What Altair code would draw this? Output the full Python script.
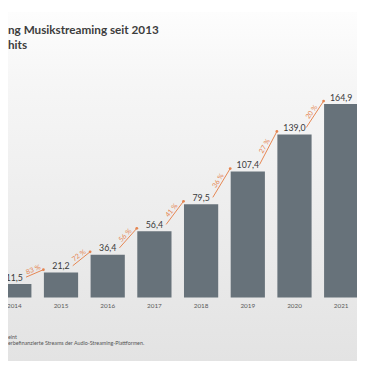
import math
import altair as alt
import pandas as pd

# ---- data ----
years = [2014, 2015, 2016, 2017, 2018, 2019, 2020, 2021]
values = [11.5, 21.2, 36.4, 56.4, 79.5, 107.4, 139.0, 164.9]
growth_labels = ["83 %", "72 %", "56 %", "41 %", "36 %", "27 %", "20 %"]
title_lines = ["ng Musikstreaming seit 2013", "hits"]
footnote_lines = ["eint", "erbefinanzierte Streams der Audio-Streaming-Plattformen."]

W, H = 357, 357
BAR = "#67727a"
ORANGE = "#e5844f"
FONT = "Lato"

x_dom = [2013.9695, 2021.234]
y_dom = [-54.17, 243.33]
px_per_year = W / (x_dom[1] - x_dom[0])
px_per_unit = H / (y_dom[1] - y_dom[0])

bars = pd.DataFrame({
    "year": years,
    "value": values,
    "label": [f"{v:.1f}".replace(".", ",") for v in values],
})

rows = []
for i in range(len(years) - 1):
    dx = px_per_year - 30
    dy = (values[i + 1] - values[i]) * px_per_unit - 4
    ang = math.degrees(math.atan2(dy, dx))
    rows.append({
        "x1": years[i], "x2": years[i + 1],
        "y1": values[i], "y2": values[i + 1],
        "xm": (years[i] + years[i + 1]) / 2,
        "ym": (values[i] + values[i + 1]) / 2,
        "ang": 360 - ang,
        "g": growth_labels[i],
    })
growth = pd.DataFrame(rows)

xs = alt.Scale(domain=x_dom, nice=False, zero=False)
ys = alt.Scale(domain=y_dom, nice=False, zero=False)

one = pd.DataFrame({"a": [0]})

bg = alt.Chart(one).mark_rect().encode(
    x=alt.value(0), x2=alt.value(W), y=alt.value(0), y2=alt.value(H),
    color=alt.value(alt.LinearGradient(
        gradient="linear", x1=0, x2=0, y1=0, y2=1,
        stops=[alt.GradientStop(color="#fdfdfd", offset=0),
               alt.GradientStop(color="#f6f6f6", offset=0.2),
               alt.GradientStop(color="#e3e3e3", offset=1)])),
)

base = alt.Chart(bars)
bar = base.mark_bar(size=35, color=BAR, clip=True).encode(
    x=alt.X("year:Q", scale=xs, axis=None),
    y=alt.Y("value:Q", scale=ys, axis=None),
    y2=alt.datum(0),
)
vlabel = base.mark_text(font=FONT, fontSize=9, color="#3a3a3a", baseline="middle", dy=-6.5).encode(
    x=alt.X("year:Q", scale=xs), y=alt.Y("value:Q", scale=ys), text="label:N")
ylabel = base.mark_text(font=FONT, fontSize=6.5, color="#5a5a5a", baseline="middle", dy=9).encode(
    x=alt.X("year:Q", scale=xs), y=alt.datum(0), text=alt.Text("year:Q", format="d"))

gb = alt.Chart(growth)
gline = gb.mark_rule(color=ORANGE, strokeWidth=1, xOffset=12, x2Offset=-18, yOffset=-7, y2Offset=-3).encode(
    x=alt.X("x1:Q", scale=xs), x2="x2:Q", y=alt.Y("y1:Q", scale=ys), y2="y2:Q")
gdot = gb.mark_circle(color=ORANGE, opacity=1, size=8, xOffset=-18, yOffset=-3).encode(
    x=alt.X("x2:Q", scale=xs), y=alt.Y("y2:Q", scale=ys))
gtext = gb.mark_text(font=FONT, fontSize=7, color=ORANGE, baseline="middle", align="center",
                     xOffset=-3, yOffset=-5, dy=-4).encode(
    x=alt.X("xm:Q", scale=xs), y=alt.Y("ym:Q", scale=ys),
    angle=alt.Angle("ang:Q", scale=None), text="g:N")


def text_line(txt, ypix, size, weight, color):
    return alt.Chart(pd.DataFrame({"t": [txt]})).mark_text(
        font=FONT, fontSize=size, fontWeight=weight, color=color,
        align="left", baseline="middle").encode(
        x=alt.value(0), y=alt.value(ypix), text="t:N")


title1 = text_line(title_lines[0], 19, 12, "bold", "#3d3d3d")
title2 = text_line(title_lines[1], 34, 12, "bold", "#3d3d3d")
foot1 = text_line(footnote_lines[0], 332, 5.5, "normal", "#555555")
foot2 = text_line(footnote_lines[1], 339, 5.5, "normal", "#555555")

chart = alt.layer(bg, bar, vlabel, ylabel, gline, gdot, gtext, title1, title2, foot1, foot2).properties(
    width=W, height=H, padding=0, autosize=alt.AutoSizeParams(type="none")
).configure_view(stroke=None)

chart.save("out.html", embed_options={"renderer": "svg", "actions": False})
